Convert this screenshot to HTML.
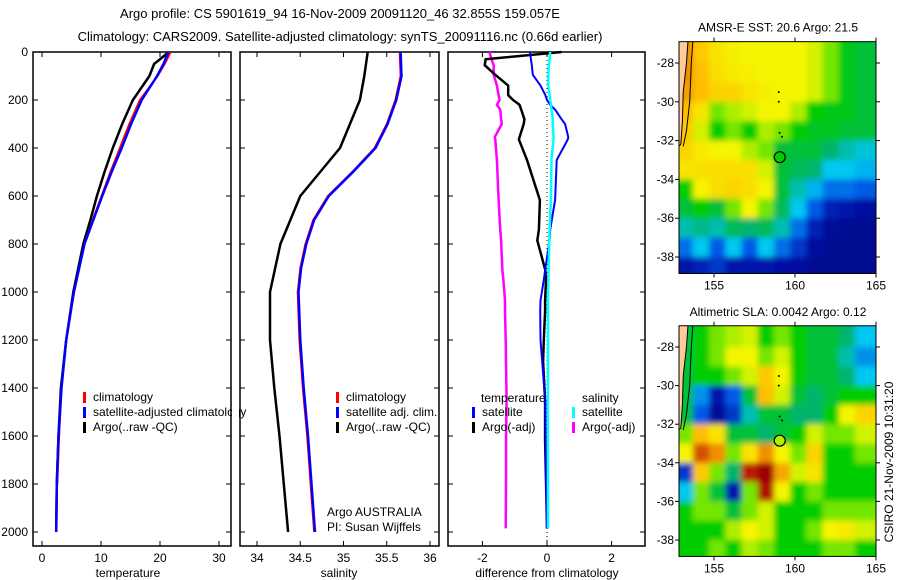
<!DOCTYPE html>
<html><head><meta charset="utf-8">
<style>
html,body{margin:0;padding:0;background:#fff;}
svg{display:block;font-family:"Liberation Sans",sans-serif;}
text{fill:#000;}
</style></head>
<body>
<svg id="chart" width="900" height="580" viewBox="0 0 900 580" xmlns="http://www.w3.org/2000/svg">
<defs>
<filter id="smooth" x="0" y="0" width="100%" height="100%"><feGaussianBlur stdDeviation="2.8" edgeMode="duplicate"/></filter>
</defs>
<text x="340" y="18" font-size="13" text-anchor="middle">Argo profile: CS 5901619_94 16-Nov-2009 20091120_46 32.855S 159.057E</text>
<text x="340" y="41" font-size="13" text-anchor="middle">Climatology: CARS2009. Satellite-adjusted climatology: synTS_20091116.nc (0.66d earlier)</text>
<g id="layer"></g>
</svg>
<script>
// ---- profile data ----
const depths = [0,50,100,200,300,400,500,600,700,800,1000,1200,1400,1600,1800,2000];
const tempClim = [21.8,20.8,19.6,16.6,14.8,13.2,11.6,10.1,8.6,7.2,5.4,4.1,3.3,2.9,2.6];
const tempSat  = [21.4,20.6,19.5,16.9,15.1,13.5,11.8,10.2,8.7,7.2,5.4,4.1,3.3,2.8,2.5,2.4];
const tempArgo = [21.5,19.0,18.2,15.4,13.6,12.0,10.6,9.3,8.2,7.0,5.3,4.1,3.2,2.8,2.5,2.4];
const salDepths = [0,100,200,300,400,500,600,700,800,900,1000,1200,1400,1600,1800,2000];
const salClim = [35.65,35.66,35.6,35.5,35.36,35.1,34.82,34.65,34.56,34.5,34.47,34.49,34.53,34.58,34.62,34.66];
const salSat  = [35.66,35.67,35.61,35.51,35.37,35.11,34.83,34.66,34.57,34.51,34.48,34.5,34.54,34.59,34.63,34.67];
const salArgoDepths = [0,100,200,400,600,800,1000,1200,1400,1600,1800,2000];
const salArgo = [35.28,35.24,35.19,34.96,34.5,34.27,34.15,34.15,34.2,34.26,34.31,34.36];
const diffDepths = [0,30,55,95,140,180,200,220,240,280,300,355,365,450,617,740,785,910,950,1035,1080,1200,1290,1450,1620,1785,1985];
const dTempSat  = [-0.53,-0.5,-0.47,-0.44,-0.2,-0.05,0,0.1,0.25,0.45,0.56,0.66,0.64,0.3,0.25,0.1,0.08,-0.06,-0.1,-0.2,-0.21,-0.2,-0.15,-0.06,-0.04,-0.03,0];
const dTempArgo = [0.45,-1.9,-1.93,-1.6,-1.2,-1.2,-1.05,-0.85,-0.8,-0.7,-0.72,-0.85,-0.87,-0.62,-0.22,-0.25,-0.3,-0.05,-0.03,-0.06,-0.06,-0.1,-0.12,-0.06,-0.06,-0.03,0];
const dSalSat   = [0.1,0.08,0.06,0.04,0.04,0.08,0.1,0.12,0.14,0.18,0.18,0.2,0.2,0.14,0.12,0.08,0.07,0.05,0.04,0.03,0.03,0.03,0.03,0.03,0.03,0.03,0.03];
const dSalArgo  = [-1.78,-1.72,-1.65,-1.65,-1.55,-1.5,-1.47,-1.55,-1.45,-1.42,-1.4,-1.62,-1.6,-1.55,-1.5,-1.45,-1.42,-1.38,-1.35,-1.3,-1.3,-1.28,-1.27,-1.25,-1.27,-1.27,-1.28];
const depthTicks = [0,200,400,600,800,1000,1200,1400,1600,1800,2000];
const tempTicks = [0,10,20,30];
const salTicks = [34,34.5,35,35.5,36];
const diffTicks = [-2,0,2];
// ---- map data (values 0..1 on colormap), rows lat -27..-39, cols lon 153..165 ----
const sstGrid = [
[0.78,0.7,0.65,0.63,0.62,0.62,0.62,0.62,0.6,0.55,0.48,0.45],
[0.78,0.72,0.66,0.64,0.63,0.62,0.62,0.62,0.6,0.55,0.48,0.45],
[0.76,0.72,0.68,0.68,0.65,0.63,0.62,0.62,0.6,0.55,0.48,0.45],
[0.72,0.65,0.55,0.58,0.6,0.62,0.62,0.58,0.5,0.48,0.48,0.45],
[0.7,0.6,0.5,0.55,0.5,0.58,0.55,0.5,0.47,0.47,0.45,0.45],
[0.68,0.64,0.62,0.62,0.58,0.55,0.45,0.45,0.45,0.4,0.35,0.32],
[0.65,0.66,0.66,0.66,0.66,0.6,0.45,0.42,0.4,0.3,0.3,0.28],
[0.5,0.62,0.66,0.68,0.66,0.62,0.45,0.35,0.28,0.22,0.22,0.2],
[0.45,0.5,0.45,0.55,0.62,0.55,0.42,0.3,0.2,0.12,0.1,0.08],
[0.35,0.38,0.35,0.42,0.4,0.42,0.35,0.22,0.12,0.06,0.05,0.05],
[0.22,0.3,0.2,0.3,0.2,0.3,0.22,0.15,0.08,0.05,0.05,0.05],
[0.1,0.12,0.15,0.1,0.1,0.1,0.08,0.08,0.05,0.05,0.05,0.05]];
const slaGrid = [
[0.45,0.5,0.55,0.58,0.6,0.5,0.55,0.5,0.45,0.45,0.4,0.3],
[0.45,0.5,0.55,0.62,0.62,0.55,0.6,0.5,0.45,0.45,0.35,0.25],
[0.45,0.5,0.5,0.55,0.6,0.7,0.62,0.5,0.45,0.45,0.4,0.3],
[0.45,0.25,0.1,0.2,0.45,0.72,0.6,0.45,0.4,0.45,0.5,0.5],
[0.45,0.2,0.06,0.15,0.35,0.45,0.45,0.4,0.4,0.5,0.62,0.68],
[0.55,0.72,0.65,0.45,0.45,0.4,0.45,0.5,0.6,0.55,0.55,0.6],
[0.62,0.85,0.78,0.55,0.65,0.78,0.62,0.55,0.68,0.5,0.5,0.55],
[0.15,0.7,0.55,0.4,0.9,0.98,0.75,0.6,0.65,0.5,0.5,0.5],
[0.3,0.55,0.45,0.1,0.55,0.92,0.62,0.5,0.55,0.5,0.5,0.5],
[0.5,0.55,0.55,0.45,0.55,0.6,0.5,0.5,0.5,0.55,0.55,0.55],
[0.5,0.5,0.5,0.58,0.62,0.6,0.5,0.5,0.55,0.62,0.64,0.6],
[0.5,0.5,0.55,0.5,0.58,0.55,0.5,0.5,0.5,0.55,0.55,0.5]];
const latTicks = [-28,-30,-32,-34,-36,-38];
const lonTicks = [155,160,165];
const argoLon = 159.057, argoLat = -32.855;
const sstMarkerValue = 0.5, slaMarkerValue = 0.58;

const NS='http://www.w3.org/2000/svg';
const L=document.getElementById('layer');
function mk(tag,attrs,parent){const e=document.createElementNS(NS,tag);for(const k in attrs)e.setAttribute(k,attrs[k]);(parent||L).appendChild(e);return e;}
function txt(x,y,s,size,anchor,parent){const t=mk('text',{x:x,y:y,'font-size':size||12,'text-anchor':anchor||'start'},parent);t.textContent=s;return t;}
const yD = d => 52 + d*0.24;
function panel(x0,x1,xs,ticks,fmt,name){
  const g=mk('g',{});
  
  
  const fr=mk('rect',{x:x0,y:52,width:x1-x0,height:494,fill:'none',stroke:'#000','stroke-width':1.5},g);
  
  
  depthTicks.forEach(d=>{mk('line',{x1:x0,x2:x0+5,y1:yD(d),y2:yD(d),stroke:'#000'},g);mk('line',{x1:x1-5,x2:x1,y1:yD(d),y2:yD(d),stroke:'#000'},g);});
  ticks.forEach(v=>{const x=xs(v);mk('line',{x1:x,x2:x,y1:546,y2:541,stroke:'#000'},g);mk('line',{x1:x,x2:x,y1:52,y2:57,stroke:'#000'},g);
    const t=txt(x,562,fmt(v),12,'middle',g);
    
    });
  return g;
}
function line(xs,vals,ds,color,w,name,parent){
  const pts=vals.map((v,i)=>xs(v).toFixed(1)+','+yD(ds[i]).toFixed(1)).join(' ');
  const p=mk('polyline',{points:pts,fill:'none',stroke:color,'stroke-width':w||2,'stroke-linejoin':'round'},parent);
  
  
  return p;
}
function legendRow(x,y,color,label,name,parent){
  mk('rect',{x:x,y:y-9,width:3,height:11,fill:color},parent);
  const t=txt(x+10,y,label,12,'start',parent);
  
  
}
// Panel 1 temperature
const xT = v => 42 + v*5.9;
const p1=panel(33,231,xT,tempTicks,v=>String(v),'temperature-panel');
depthTicks.forEach(d=>{const t=txt(28,yD(d)+4,String(d),12,'end',p1);
  
  });
let t1=txt(128,577,'temperature',12,'middle',p1);


line(xT,tempArgo,depths,'#000',2.5,'temp-argo-line',p1);
line(xT,tempClim,depths.slice(0,tempClim.length),'#f00',2,'temp-climatology-line',p1);
line(xT,tempSat,depths,'#00f',2.5,'temp-satellite-line',p1);
legendRow(83,401,'#f00','climatology','legend-climatology',p1);
legendRow(83,416,'#00f','satellite-adjusted climatology','legend-satellite-adjusted',p1);
legendRow(83,431,'#000','Argo(..raw -QC)','legend-argo',p1);
// Panel 2 salinity
const xS = v => 257 + (v-34)*86.5;
const p2=panel(240,439,xS,salTicks,v=>String(v),'salinity-panel');
mk('rect',{x:232,y:405,width:7,height:14,fill:'#fff'},p2);
let t2=txt(339,577,'salinity',12,'middle',p2);


line(xS,salArgo,salArgoDepths,'#000',2.5,'sal-argo-line',p2);
line(xS,salClim,salDepths,'#f00',2,'sal-climatology-line',p2);
line(xS,salSat,salDepths,'#00f',2.5,'sal-satellite-line',p2);
legendRow(336,401,'#f00','climatology','legend-sal-climatology',p2);
legendRow(336,416,'#00f','satellite adj. clim.','legend-sal-satellite',p2);
legendRow(336,431,'#000','Argo(..raw -QC)','legend-sal-argo',p2);
let a1=txt(327,516,'Argo AUSTRALIA',12,'start',p2);


let a2=txt(327,531,'PI: Susan Wijffels',12,'start',p2);


// Panel 3 difference
const xDf = v => 547 + v*32.3;
const p3=panel(448,645,xDf,diffTicks,v=>String(v),'difference-panel');
let zl=mk('line',{x1:xDf(0),x2:xDf(0),y1:52,y2:546,stroke:'#000','stroke-dasharray':'1,3'},p3);


let t3=txt(547,577,'difference from climatology',12,'middle',p3);


line(xDf,dSalArgo,diffDepths,'#f0f',2.5,'dsal-argo-line',p3);
line(xDf,dTempArgo,diffDepths,'#000',2.5,'dtemp-argo-line',p3);
line(xDf,dTempSat,diffDepths,'#00f',2,'dtemp-satellite-line',p3);
line(xDf,dSalSat,diffDepths,'#0ff',2.5,'dsal-satellite-line',p3);
txt(481,402,'temperature',12,'start',p3);
txt(582,402,'salinity',12,'start',p3);
legendRow(472,416,'#00f','satellite','legend-dtemp-satellite',p3);
legendRow(472,431,'#000','Argo(-adj)','legend-dtemp-argo',p3);
legendRow(572,416,'#0ff','satellite','legend-dsal-satellite',p3);
legendRow(572,431,'#f0f','Argo(-adj)','legend-dsal-argo',p3);
// ---- maps ----
const cmapStops=[[0,[0,0,120]],[0.1,[0,20,170]],[0.2,[0,90,230]],[0.3,[0,200,240]],[0.4,[0,180,110]],[0.5,[0,205,0]],[0.56,[140,235,0]],[0.62,[245,245,0]],[0.72,[255,190,0]],[0.82,[230,110,0]],[0.92,[175,10,0]],[1,[150,0,0]]];
function cmap(v){for(let i=1;i<cmapStops.length;i++){if(v<=cmapStops[i][0]){const a=cmapStops[i-1],b=cmapStops[i];const t=(v-a[0])/(b[0]-a[0]);
  return 'rgb('+a[1].map((c,k)=>Math.round(c+(b[1][k]-c)*t)).join(',')+')';}}return 'rgb(150,0,0)';}
function map(y0,latTop,pxLat,grid,title,markerVal,name){
  const xL = lon => 714 + (lon-155)*16.2;
  const yL = lat => y0 + (latTop-lat)*pxLat;
  const g=mk('g',{});
  
  
  const x0=679,x1=876,top=yL(-26.9),bot=yL(-38.85);
  const cid=name+'-clip';
  const cp=mk('clipPath',{id:cid},g);mk('rect',{x:x0,y:top,width:x1-x0,height:bot-top},cp);
  const clipped=mk('g',{'clip-path':'url(#'+cid+')'},g);
  const cells=mk('g',{filter:'url(#smooth)'},clipped);
  grid.forEach((row,j)=>row.forEach((v,i)=>{
    const lat=-27-j, lon=153+i;
    const r=mk('rect',{x:xL(lon-0.3)-(i===0?20:0),y:yL(lat+(j===0?1.5:0)),width:17.2+(i===0||i===11?20:0),height:pxLat*(j===0?2.5:(j===11?2:1))+1,fill:cmap(v)},cells);
    
    
  }));
  const land=mk('polygon',{points:[[152.5,-26.8],[153.4,-26.8],[153.3,-28],[153.1,-29.5],[153.05,-31],[152.95,-32.2],[152.5,-32.5]].map(p=>xL(p[0])+','+yL(p[1])).join(' '),fill:'#ffcc99',stroke:'#000','stroke-width':1},clipped);
  
  
  mk('polyline',{points:[[153.7,-26.8],[153.6,-28],[153.5,-30],[153.3,-31.5],[153.1,-32.3]].map(p=>xL(p[0])+','+yL(p[1])).join(' '),fill:'none',stroke:'#000'},clipped);
  [[159,-29.5],[159,-30.0],[159.05,-31.6],[159.2,-31.8]].forEach(p=>mk('circle',{cx:xL(p[0]),cy:yL(p[1]),r:1,fill:'#000'},clipped));
  const m=mk('circle',{cx:xL(argoLon),cy:yL(argoLat),r:5.5,fill:cmap(markerVal),stroke:'#000','stroke-width':1.2},clipped);
  
  
  mk('rect',{x:x0,y:top,width:x1-x0,height:bot-top,fill:'none',stroke:'#000'},g);
  latTicks.forEach(l=>{const y=yL(l);mk('line',{x1:x0-4,x2:x0,y1:y,y2:y,stroke:'#000'},g);mk('line',{x1:x1,x2:x1+4,y1:y,y2:y,stroke:'#000'},g);
    const t=txt(674,y+4,String(l),12,'end',g);
    
    });
  lonTicks.forEach(l=>{const x=xL(l);mk('line',{x1:x,x2:x,y1:bot,y2:bot+4,stroke:'#000'},g);mk('line',{x1:x,x2:x,y1:top-4,y2:top,stroke:'#000'},g);
    const t=txt(x,bot+16,String(l),12,'middle',g);
    
    });
  const tt=txt(778,top-10,title,12,'middle',g);
  
  
}
map(63,-28,19.4,sstGrid,'AMSR-E SST: 20.6 Argo: 21.5',sstMarkerValue,'sst-map');
map(347,-28,19.3,slaGrid,'Altimetric SLA: 0.0042 Argo: 0.12',slaMarkerValue,'sla-map');
const cs=txt(0,0,'CSIRO 21-Nov-2009 10:31:20',12,'middle');
cs.setAttribute('transform','translate(893,462) rotate(-90)');


</script>
</body></html>
